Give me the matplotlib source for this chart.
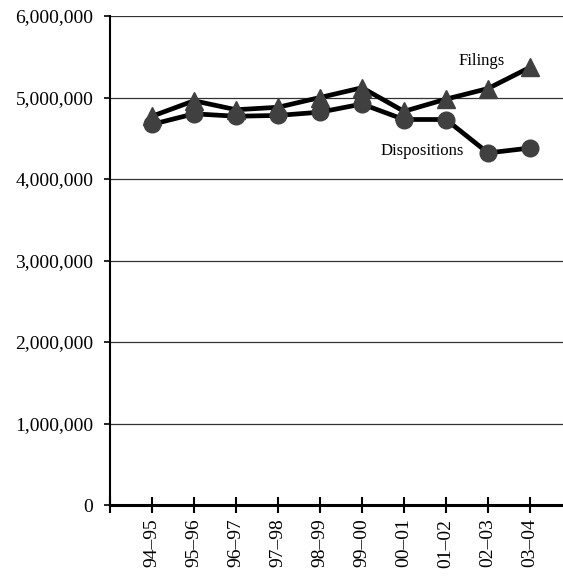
import numpy as np
import matplotlib
matplotlib.use("Agg")
import matplotlib.pyplot as plt
from matplotlib.ticker import FuncFormatter

# Daten
years = ['94–95', '95–96', '96–97', '97–98', '98–99', '99–00',
         '00–01', '01–02', '02–03', '03–04']
filings = [4770000, 4960000, 4850000, 4880000, 5000000, 5120000,
           4830000, 4980000, 5110000, 5370000]
dispositions = [4670000, 4800000, 4770000, 4780000, 4820000, 4920000,
                4730000, 4730000, 4320000, 4380000]

plt.rcParams['font.family'] = ['Liberation Serif', 'DejaVu Serif']

fig = plt.figure(figsize=(5.63, 5.76), dpi=100)
ax = fig.add_axes([110 / 563, 1 - 505 / 576, 1 - 110 / 563, (505 - 16) / 576])

x = np.arange(1, len(years) + 1)
ax.plot(x, filings, color='black', lw=3.4, zorder=3)
ax.plot(x, dispositions, color='black', lw=3.4, zorder=3)
ax.plot(x, filings, ls='none', marker='^', ms=12.5, color='#404040', zorder=4)
ax.plot(x, dispositions, ls='none', marker='o', ms=12, color='#404040', zorder=4)

# Beschriftungen der Linien
ax.text(8.86, 5450000, 'Filings', fontsize=12, ha='center', va='center')
ax.text(7.43, 4340000, 'Dispositions', fontsize=12, ha='center', va='center')

ax.set_xlim(0, 453 / 42)
ax.set_ylim(0, 6000000)
ax.set_yticks(np.arange(0, 6000001, 1000000))
ax.yaxis.set_major_formatter(FuncFormatter(lambda v, p: f'{int(v):,}'))
ax.set_xticks(np.arange(0, len(years) + 1))
ax.set_xticklabels([''] + years, rotation=90)

ax.grid(axis='y', color='#333333', lw=0.9)
ax.set_axisbelow(True)
for s in ['top', 'right']:
    ax.spines[s].set_visible(False)
ax.spines['left'].set_linewidth(1.5)
ax.spines['bottom'].set_linewidth(2.2)
ax.tick_params(axis='y', length=4.5, width=1.2, labelsize=14, pad=7.5)
ax.tick_params(axis='x', direction='inout', length=11.5, width=1.5, labelsize=14, pad=4)

fig.savefig('out.png', dpi=100)
